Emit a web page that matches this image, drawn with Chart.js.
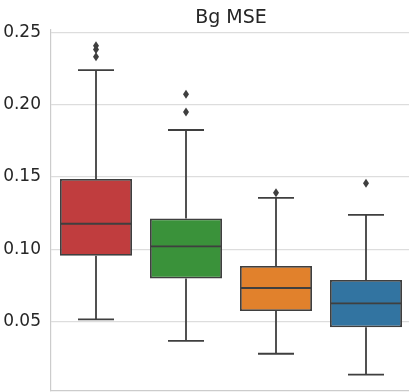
<!DOCTYPE html>
<html>
<head>
<meta charset="utf-8">
<script src="https://cdn.jsdelivr.net/npm/chart.js@4"></script>
<style>
  html, body { margin: 0; padding: 0; background: #fff; overflow: hidden; width: 409px; height: 392px; }
  canvas { display: block; }
</style>
</head>
<body>
<canvas id="chart" width="420" height="392"></canvas>
<script>
const categories = ['1', '2', '3', '4'];
const q1 = [0.0954, 0.0797, 0.0571, 0.0458];
const median = [0.1176, 0.1019, 0.0731, 0.0625];
const q3 = [0.1486, 0.1213, 0.0884, 0.0787];
const whiskerLow = [0.0514, 0.0365, 0.0275, 0.0131];
const whiskerHigh = [0.2241, 0.1826, 0.1356, 0.1238];
const outliers = [[0.2410, 0.2384, 0.2334], [0.2074, 0.1951], [0.1391], [0.1456]];
const yTicks = [0.05, 0.10, 0.15, 0.20, 0.25];
const boxColors = ['#c03d3e', '#3a923a', '#e1812c', '#3274a1'];

const lineColor = '#3f3f3f';
const textColor = '#262626';

// whiskers, caps, medians, fliers and the title
const boxExtras = {
  id: 'boxExtras',
  afterDatasetsDraw(chart) {
    const ctx = chart.ctx;
    const x = chart.scales.x;
    const y = chart.scales.y;
    const meta = chart.getDatasetMeta(0);
    ctx.save();
    ctx.strokeStyle = lineColor;
    ctx.fillStyle = lineColor;
    ctx.lineWidth = 1.8;
    meta.data.forEach((bar, i) => {
      const cx = x.getPixelForValue(i);
      const half = bar.width / 2;
      const cap = bar.width / 4;
      ctx.beginPath();
      ctx.moveTo(cx, y.getPixelForValue(q3[i]));
      ctx.lineTo(cx, y.getPixelForValue(whiskerHigh[i]));
      ctx.moveTo(cx, y.getPixelForValue(q1[i]));
      ctx.lineTo(cx, y.getPixelForValue(whiskerLow[i]));
      ctx.moveTo(cx - cap, y.getPixelForValue(whiskerHigh[i]));
      ctx.lineTo(cx + cap, y.getPixelForValue(whiskerHigh[i]));
      ctx.moveTo(cx - cap, y.getPixelForValue(whiskerLow[i]));
      ctx.lineTo(cx + cap, y.getPixelForValue(whiskerLow[i]));
      ctx.moveTo(cx - half, y.getPixelForValue(median[i]));
      ctx.lineTo(cx + half, y.getPixelForValue(median[i]));
      ctx.stroke();
      outliers[i].forEach(v => {
        const py = y.getPixelForValue(v);
        ctx.beginPath();
        ctx.moveTo(cx, py - 4.5);
        ctx.lineTo(cx + 3, py);
        ctx.lineTo(cx, py + 4.5);
        ctx.lineTo(cx - 3, py);
        ctx.closePath();
        ctx.fill();
      });
    });
    const area = chart.chartArea;
    ctx.font = '19px "DejaVu Sans"';
    ctx.fillStyle = textColor;
    ctx.textAlign = 'center';
    ctx.textBaseline = 'alphabetic';
    ctx.fillText('Bg MSE', (area.left + area.right) / 2, 22.5);
    ctx.restore();
  }
};

new Chart(document.getElementById('chart'), {
  type: 'bar',
  data: {
    labels: categories,
    datasets: [{
      data: categories.map((c, i) => [q1[i], q3[i]]),
      backgroundColor: boxColors,
      borderColor: lineColor,
      borderWidth: 1.8,
      borderSkipped: false,
      categoryPercentage: 1.0,
      barPercentage: 0.8
    }]
  },
  options: {
    responsive: false,
    animation: false,
    layout: { padding: { top: 30, right: 9, bottom: 1, left: 0 } },
    plugins: {
      legend: { display: false },
      title: { display: false },
      tooltip: { enabled: false }
    },
    scales: {
      x: {
        grid: { display: false },
        border: { display: true, color: '#cccccc', width: 1.2 },
        ticks: { display: false },
        afterFit: (scale) => { scale.height = 0; }
      },
      y: {
        min: 0.0017,
        max: 0.2519,
        afterBuildTicks: (scale) => { scale.ticks = yTicks.map(v => ({ value: v })); },
        afterFit: (scale) => {
          scale.width = 51;
          scale.paddingTop = 0;
          scale.paddingBottom = 0;
        },
        grid: { color: '#dddddd', lineWidth: 1.2, drawTicks: false },
        border: { display: true, color: '#cccccc', width: 1.2 },
        ticks: {
          padding: 10,
          color: textColor,
          font: { family: 'DejaVu Sans', size: 17 },
          callback: (v) => Number(v).toFixed(2)
        }
      }
    }
  },
  plugins: [boxExtras]
});
</script>
</body>
</html>
